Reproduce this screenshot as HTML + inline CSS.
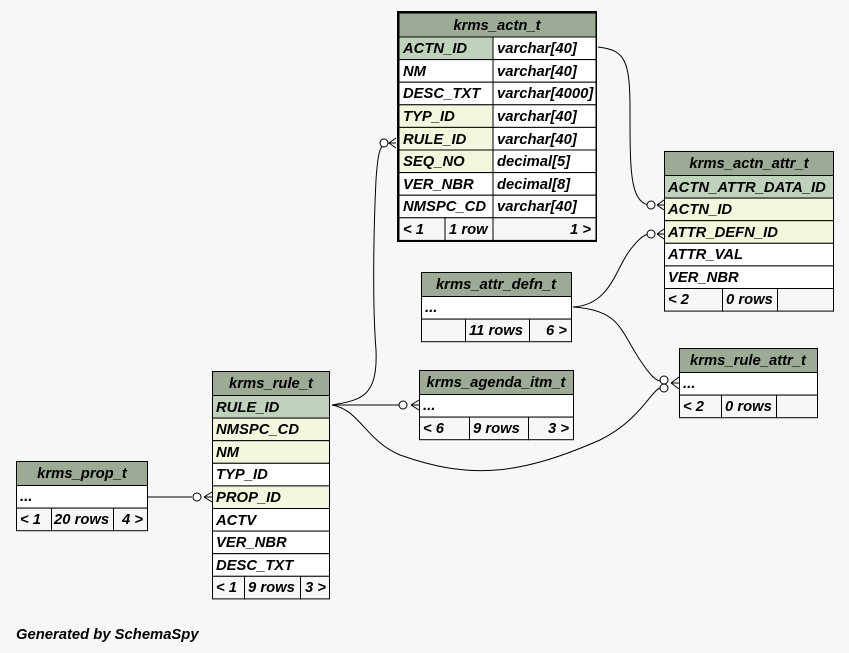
<!DOCTYPE html>
<html><head><meta charset="utf-8"><style>
html,body{margin:0;padding:0;background:#f7f7f7;}
svg{display:block;}
text{font-family:"Liberation Sans",sans-serif;font-weight:bold;font-style:italic;font-size:14.8px;fill:#000;}
.h{fill:#9dab96;}
.pk{fill:#bfd3bc;}
.fk{fill:#f4f6dd;}
.w{fill:#fff;}
.g{fill:#f7f7f7;}
rect{stroke:#000;stroke-width:1;}
path.c{fill:none;stroke:#000;stroke-width:1;}
circle{fill:#fff;stroke:#000;stroke-width:1;}
</style></head><body>
<svg width="849" height="653" viewBox="0 0 849 653" xmlns="http://www.w3.org/2000/svg">

<!-- connectors -->
<path class="c" d="M332,405 C360,400 378,398 376,350 C372,300 374,220 376,180 C378,150 380,143 390,143"/>
<path class="c" d="M598,47 C625,50 630,60 630,110 C630,170 630,200 648,205"/>
<path class="c" d="M573,307 C610,305 615,270 630,250 C638,240 642,236 648,234"/>
<path class="c" d="M573,307 C620,310 620,330 640,360 C650,375 655,380 660,381"/>
<path class="c" d="M332,405 L400,405"/>
<path class="c" d="M332,405 C360,410 365,440 400,455 C470,480 520,475 600,440 C640,420 650,392 660,388"/>
<path class="c" d="M147,497 L192,497"/>
<!-- crow feet -->
<path class="c" d="M389,143 L396,138 M389,143 L396,143 M389,143 L396,148"/>
<circle cx="384" cy="143" r="4"/>
<path class="c" d="M657,205 L664,200 M657,205 L664,205 M657,205 L664,210"/>
<circle cx="651" cy="205" r="4"/>
<path class="c" d="M657,234 L664,229 M657,234 L664,234 M657,234 L664,239"/>
<circle cx="651" cy="234" r="4"/>
<path class="c" d="M671,383 L679,377 M671,383 L679,383 M671,383 L679,389"/>
<circle cx="664" cy="380" r="4"/>
<circle cx="664" cy="388" r="4"/>
<path class="c" d="M411,405 L419,400 M411,405 L419,405 M411,405 L419,410"/>
<circle cx="403" cy="405" r="4"/>
<path class="c" d="M204,497 L212,492 M204,497 L212,497 M204,497 L212,502"/>
<circle cx="197" cy="497" r="4"/>

<!-- krms_actn_t -->
<rect x="397.5" y="11.5" width="199" height="230" fill="#000" stroke="#000" stroke-width="3"/>
<rect class="h" x="399" y="13" width="197" height="24"/>
<text x="497" y="30" text-anchor="middle">krms_actn_t</text>
<rect class="pk" x="399" y="37" width="94" height="22.6"/><rect class="w" x="493" y="37" width="103" height="22.6"/>
<rect class="w" x="399" y="59.6" width="94" height="22.6"/><rect class="w" x="493" y="59.6" width="103" height="22.6"/>
<rect class="w" x="399" y="82.2" width="94" height="22.6"/><rect class="w" x="493" y="82.2" width="103" height="22.6"/>
<rect class="fk" x="399" y="104.8" width="94" height="22.6"/><rect class="w" x="493" y="104.8" width="103" height="22.6"/>
<rect class="fk" x="399" y="127.4" width="94" height="22.6"/><rect class="w" x="493" y="127.4" width="103" height="22.6"/>
<rect class="fk" x="399" y="150" width="94" height="22.6"/><rect class="w" x="493" y="150" width="103" height="22.6"/>
<rect class="w" x="399" y="172.6" width="94" height="22.6"/><rect class="w" x="493" y="172.6" width="103" height="22.6"/>
<rect class="w" x="399" y="195.2" width="94" height="22.6"/><rect class="w" x="493" y="195.2" width="103" height="22.6"/>
<rect class="g" x="399" y="217.8" width="46" height="22.6"/><rect class="g" x="445" y="217.8" width="48" height="22.6"/><rect class="g" x="493" y="217.8" width="103" height="22.6"/>
<text x="403" y="53">ACTN_ID</text><text x="497" y="53">varchar[40]</text>
<text x="403" y="76">NM</text><text x="497" y="76">varchar[40]</text>
<text x="403" y="98">DESC_TXT</text><text x="497" y="98">varchar[4000]</text>
<text x="403" y="121">TYP_ID</text><text x="497" y="121">varchar[40]</text>
<text x="403" y="144">RULE_ID</text><text x="497" y="144">varchar[40]</text>
<text x="403" y="166">SEQ_NO</text><text x="497" y="166">decimal[5]</text>
<text x="403" y="189">VER_NBR</text><text x="497" y="189">decimal[8]</text>
<text x="403" y="211">NMSPC_CD</text><text x="497" y="211">varchar[40]</text>
<text x="403" y="234">&lt; 1</text><text x="449" y="234">1 row</text><text x="591" y="234" text-anchor="end">1 &gt;</text>

<!-- krms_actn_attr_t -->
<rect class="h" x="664.5" y="151.5" width="169" height="24"/>
<text x="749" y="168" text-anchor="middle">krms_actn_attr_t</text>
<rect class="pk" x="664.5" y="175.5" width="169" height="22.6"/>
<rect class="fk" x="664.5" y="198.1" width="169" height="22.6"/>
<rect class="fk" x="664.5" y="220.7" width="169" height="22.6"/>
<rect class="w" x="664.5" y="243.3" width="169" height="22.6"/>
<rect class="w" x="664.5" y="265.9" width="169" height="22.6"/>
<rect class="g" x="664.5" y="288.5" width="58" height="22.6"/><rect class="g" x="722.5" y="288.5" width="55" height="22.6"/><rect class="g" x="777.5" y="288.5" width="56" height="22.6"/>
<text x="668" y="192">ACTN_ATTR_DATA_ID</text>
<text x="668" y="214">ACTN_ID</text>
<text x="668" y="237">ATTR_DEFN_ID</text>
<text x="668" y="259">ATTR_VAL</text>
<text x="668" y="282">VER_NBR</text>
<text x="668" y="304">&lt; 2</text><text x="726" y="304">0 rows</text>

<!-- krms_attr_defn_t -->
<rect class="h" x="421.5" y="272.5" width="150" height="24"/>
<text x="496" y="289" text-anchor="middle">krms_attr_defn_t</text>
<rect class="w" x="421.5" y="296.5" width="150" height="22.6"/>
<rect class="g" x="421.5" y="319.1" width="44" height="22.6"/><rect class="g" x="465.5" y="319.1" width="64" height="22.6"/><rect class="g" x="529.5" y="319.1" width="42" height="22.6"/>
<text x="425" y="312">...</text>
<text x="469" y="335">11 rows</text><text x="567" y="335" text-anchor="end">6 &gt;</text>

<!-- krms_rule_attr_t -->
<rect class="h" x="679.5" y="348.5" width="138" height="24"/>
<text x="748" y="365" text-anchor="middle">krms_rule_attr_t</text>
<rect class="w" x="679.5" y="372.5" width="138" height="22.6"/>
<rect class="g" x="679.5" y="395.1" width="42" height="22.6"/><rect class="g" x="721.5" y="395.1" width="55" height="22.6"/><rect class="g" x="776.5" y="395.1" width="41" height="22.6"/>
<text x="683" y="388">...</text>
<text x="683" y="411">&lt; 2</text><text x="725" y="411">0 rows</text>

<!-- krms_agenda_itm_t -->
<rect class="h" x="419.5" y="370.5" width="154" height="24"/>
<text x="496" y="387" text-anchor="middle">krms_agenda_itm_t</text>
<rect class="w" x="419.5" y="394.5" width="154" height="22.6"/>
<rect class="g" x="419.5" y="417.1" width="50" height="22.6"/><rect class="g" x="469.5" y="417.1" width="59" height="22.6"/><rect class="g" x="528.5" y="417.1" width="45" height="22.6"/>
<text x="423" y="410">...</text>
<text x="423" y="433">&lt; 6</text><text x="473" y="433">9 rows</text><text x="569" y="433" text-anchor="end">3 &gt;</text>

<!-- krms_rule_t -->
<rect class="h" x="212.5" y="371.5" width="117" height="24"/>
<text x="271" y="388" text-anchor="middle">krms_rule_t</text>
<rect class="pk" x="212.5" y="395.5" width="117" height="22.6"/>
<rect class="fk" x="212.5" y="418.1" width="117" height="22.6"/>
<rect class="fk" x="212.5" y="440.7" width="117" height="22.6"/>
<rect class="w" x="212.5" y="463.3" width="117" height="22.6"/>
<rect class="fk" x="212.5" y="485.9" width="117" height="22.6"/>
<rect class="w" x="212.5" y="508.5" width="117" height="22.6"/>
<rect class="w" x="212.5" y="531.1" width="117" height="22.6"/>
<rect class="w" x="212.5" y="553.7" width="117" height="22.6"/>
<rect class="g" x="212.5" y="576.3" width="32" height="22.6"/><rect class="g" x="244.5" y="576.3" width="56" height="22.6"/><rect class="g" x="300.5" y="576.3" width="29" height="22.6"/>
<text x="216" y="412">RULE_ID</text>
<text x="216" y="434">NMSPC_CD</text>
<text x="216" y="457">NM</text>
<text x="216" y="479">TYP_ID</text>
<text x="216" y="502">PROP_ID</text>
<text x="216" y="525">ACTV</text>
<text x="216" y="547">VER_NBR</text>
<text x="216" y="570">DESC_TXT</text>
<text x="216" y="592">&lt; 1</text><text x="248" y="592">9 rows</text><text x="326" y="592" text-anchor="end">3 &gt;</text>

<!-- krms_prop_t -->
<rect class="h" x="16.5" y="461.5" width="131" height="24"/>
<text x="82" y="478" text-anchor="middle">krms_prop_t</text>
<rect class="w" x="16.5" y="485.5" width="131" height="22.6"/>
<rect class="g" x="16.5" y="508.1" width="35" height="22.6"/><rect class="g" x="51.5" y="508.1" width="62" height="22.6"/><rect class="g" x="113.5" y="508.1" width="34" height="22.6"/>
<text x="20" y="501">...</text>
<text x="20" y="524">&lt; 1</text><text x="54" y="524">20 rows</text><text x="143" y="524" text-anchor="end">4 &gt;</text>

<text x="16" y="639">Generated by SchemaSpy</text>
</svg>
</body></html>
